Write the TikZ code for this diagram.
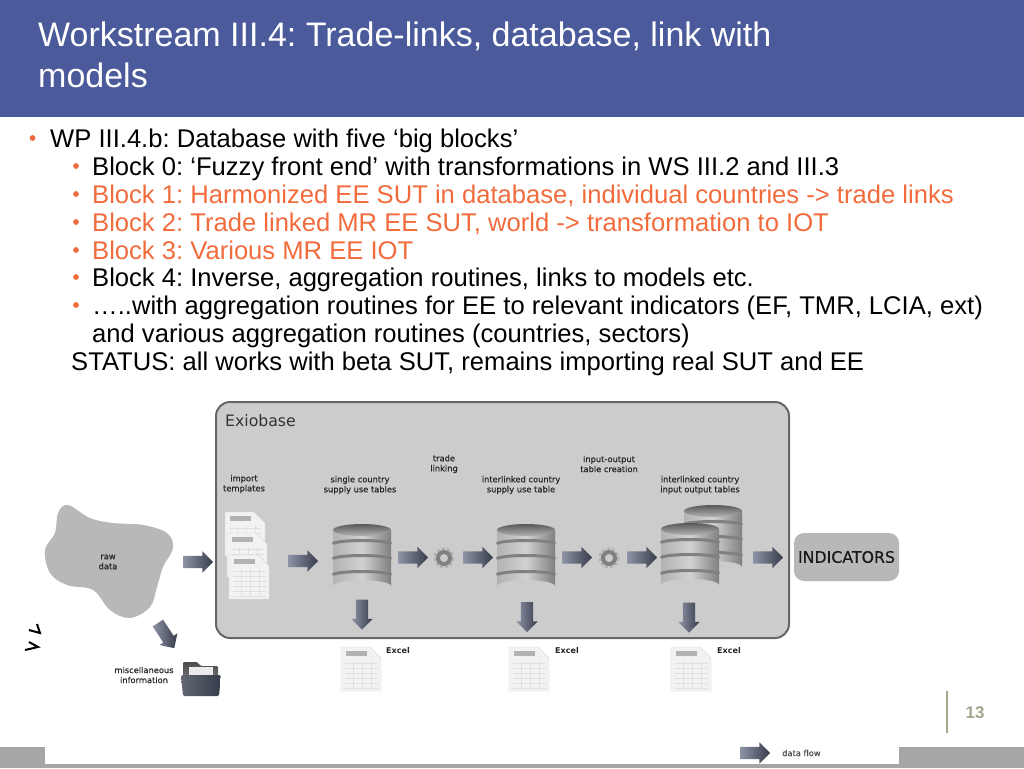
\documentclass[tikz,border=0pt]{standalone}
\usepackage{fontspec}
\setmainfont{Liberation Sans}
\newfontfamily\iconfont[FakeBold=0.35]{DejaVu Sans}
\newfontfamily\plainicon{DejaVu Sans}
\usetikzlibrary{shapes.arrows}

\definecolor{bandblue}{HTML}{4B5A9B}
\definecolor{accent}{HTML}{F26B3C}
\definecolor{barGray}{HTML}{A6A6A6}
\definecolor{boxGray}{HTML}{CCCCCC}
\definecolor{blobGray}{HTML}{B8B8B8}
\definecolor{pageOlive}{HTML}{A3A88C}
\definecolor{arrowLight}{HTML}{8E94A6}
\definecolor{arrowDark}{HTML}{363C4A}

\tikzset{
    titleline/.style={anchor=base west, inner sep=0, text=white, font=\frenchspacing\fontsize{34}{34}\selectfont},
    bodyline/.style={anchor=base west, inner sep=0, font=\frenchspacing\fontsize{25.6}{25.6}\selectfont},
    smalllabel/.style={align=center, inner sep=0, text=black!85, font=\iconfont\fontsize{8.3}{10}\selectfont},
    excellabel/.style={smalllabel, font=\plainicon\bfseries\fontsize{8}{10}\selectfont},
    flowright/.style={single arrow, minimum height=30pt, minimum width=21pt, inner xsep=0, inner ysep=6pt,
        single arrow head extend=4.5pt, left color=arrowLight, right color=arrowDark},
    pics/dbicon/.style={code={
        % body, origin at the middle of the top ellipse
        \shade[left color=black!30, right color=black!50, middle color=black!18]
            (-29,0) -- (-29,56) arc[start angle=180, end angle=360, x radius=29, y radius=6] -- (29,0) -- cycle;
        \foreach \y in {14,29,45} {
            \draw[black!50, line width=3pt, line cap=butt] (-29,\y) arc[start angle=180, end angle=360, x radius=29, y radius=3.5];
        }
        \shade[top color=black!65, bottom color=black!30] (0,0) ellipse (29 and 6);
    }},
    pics/docicon/.style={code={
        % page, origin at the top left corner
        \fill[black!5] (0,0) -- (29,0) -- (40,11) -- (40,44) -- (0,44) -- cycle;
        \draw[black!15] (0,0) -- (29,0) -- (40,11) -- (40,44) -- (0,44) -- cycle;
        \fill[black!30] (5,4) rectangle (26,9);
        \foreach \y in {16,21,...,41} {
            \draw[black!12] (4,\y) -- (37,\y);
        }
        \foreach \x in {12,21,30} {
            \draw[black!12] (\x,14) -- (\x,41);
        }
    }},
    pics/gearicon/.style={code={
        \draw[black!30, line width=3pt, dash pattern=on 3pt off 2pt] (0,0) circle (9);
        \fill[black!50] (0,0) circle (8);
        \fill[black!20] (0,0) circle (4);
    }}
}

\begin{document}
\begin{tikzpicture}[x=1pt, y=-1pt]
    \useasboundingbox (0,0) rectangle (1024,768);

    % Title band
    \fill[bandblue] (0,0) rectangle (1024,117);
    \node[titleline] (titleA) at (38,47) {Workstream III.4: Trade-links, database, link with};
    \node[titleline] (titleB) at (38,87) {models};

    % Bullets
    \fill[accent] (32.5,138) circle (2.9);
    \foreach \y in {166,194,222,250,277,305} {
        \fill[accent] (76,\y) circle (2.9);
    }

    % Body text
    \node[bodyline] (wpLine) at (50,147) {WP III.4.b: Database with five ‘big blocks’};
    \node[bodyline] (blockZero) at (92,175) {Block 0: ‘Fuzzy front end’ with transformations in WS III.2 and III.3};
    \node[bodyline, text=accent] (blockOne) at (92,203) {Block 1: Harmonized EE SUT in database, individual countries -> trade links};
    \node[bodyline, text=accent] (blockTwo) at (92,231) {Block 2: Trade linked MR EE SUT, world -> transformation to IOT};
    \node[bodyline, text=accent] (blockThree) at (92,259) {Block 3: Various MR EE IOT};
    \node[bodyline] (blockFour) at (92,286) {Block 4: Inverse, aggregation routines, links to models etc.};
    \node[bodyline] (aggrA) at (92,314) {…..with aggregation routines for EE to relevant indicators (EF, TMR, LCIA, ext)};
    \node[bodyline] (aggrB) at (92,342) {and various aggregation routines (countries, sectors)};
    \node[bodyline] (statusLine) at (71,370) {STATUS: all works with beta SUT, remains importing real SUT and EE};

    % Footer
    \fill[barGray] (0,764) rectangle (1024,768);
    \fill[barGray] (0,747) rectangle (45,768);
    \fill[barGray] (899,747) rectangle (1024,768);
    \draw[pageOlive, line width=2pt] (947,691) -- (947,733);
    \node[inner sep=0, text=pageOlive, font=\bfseries\fontsize{17}{17}\selectfont] (pageNo) at (975,713) {13};

    % Exiobase box
    \draw[fill=boxGray, draw=black!60, line width=2pt, rounded corners=14pt] (216,402) rectangle (789,638);
    \node[anchor=west, inner sep=0, text=black!80, font=\plainicon\fontsize{15.7}{16}\selectfont] (exioLabel) at (225,421) {Exiobase};

    % Raw data blob
    \fill[blobGray] plot[smooth cycle, tension=0.6] coordinates {
        (68,505) (90,518) (113,523) (143,525) (167,533) (173,548) (163,567) (157,587)
        (150,607) (130,618) (110,610) (93,590) (67,585) (50,573) (45,550) (55,533) (58,513)};
    \node[smalllabel] (rawData) at (108,562) {raw\\data};

    % Indicators box
    \node[fill=blobGray, rounded corners=10pt, minimum width=105pt, minimum height=48pt, inner sep=0,
        text=black!90, font=\iconfont\fontsize{15.8}{16}\selectfont] (indicators) at (846.5,557) {INDICATORS};

    % Templates
    \pic at (225,512) {docicon};
    \pic at (227,533) {docicon};
    \pic at (229,555) {docicon};
    \node[smalllabel] (importLabel) at (244,484) {import\\templates};

    % Databases
    \pic at (362,530) {dbicon};
    \pic at (526,530) {dbicon};
    \pic at (713,511) {dbicon};
    \pic at (690,529) {dbicon};
    \node[smalllabel] (singleLabel) at (360,485) {single country\\supply use tables};
    \node[smalllabel] (linkedLabel) at (521,485) {interlinked country\\supply use table};
    \node[smalllabel] (outputLabel) at (700,485) {interlinked country\\input output tables};

    % Process steps
    \pic at (444,558) {gearicon};
    \pic at (609,558) {gearicon};
    \node[smalllabel] (tradeLabel) at (444,464) {trade\\linking};
    \node[smalllabel] (tableLabel) at (609,464) {input-output\\table creation};

    % Data flow arrows
    \node[flowright] (flowRaw) at (195,562) {};
    \node[flowright] (flowTemplates) at (300,561) {};
    \foreach \x/\name in {410/flowTrade, 475/flowLinked, 574/flowTable, 639/flowOutput, 765/flowIndicators} {
        \node[flowright] (\name) at (\x,557.5) {};
    }
    \node[flowright] (flowLegend) at (752,753) {};
    \foreach \x/\y/\name in {362/611.5/flowExcelA, 527/614/flowExcelB, 689/614.5/flowExcelC} {
        \node[flowright, rotate=-90] (\name) at (\x,\y) {};
    }
    \node[flowright, rotate=-57] (flowMisc) at (164.4,633) {};

    % Excel outputs
    \foreach \x in {341,509,671} {
        \pic at (\x,647) {docicon};
    }
    \node[excellabel] (excelA) at (398,651) {Excel};
    \node[excellabel] (excelB) at (567,651) {Excel};
    \node[excellabel] (excelC) at (729,651) {Excel};

    % Miscellaneous information
    \shade[top color=black!70, bottom color=black!55, rounded corners=1pt] (183,680) -- (183,662) -- (197,662) -- (201,666) -- (218,666) -- (218,680) -- cycle;
    \fill[black!8] (189,667) rectangle (213,677);
    \shade[left color=arrowLight!70!black, right color=arrowDark, rounded corners=1.5pt] (181,675) -- (221,675) -- (219,696) -- (183,696) -- cycle;
    \node[smalllabel] (miscLabel) at (144,675) {miscellaneous\\information};

    % Stray marks
    \draw[black, line width=2pt] (29,630) -- (40,633) -- (37,624);
    \draw[black, line width=2pt] (25,650) -- (38,647) -- (29,642);

    % Legend
    \node[smalllabel, anchor=west, text=black!70] (legendLabel) at (782,753) {data flow};
\end{tikzpicture}
\end{document}
